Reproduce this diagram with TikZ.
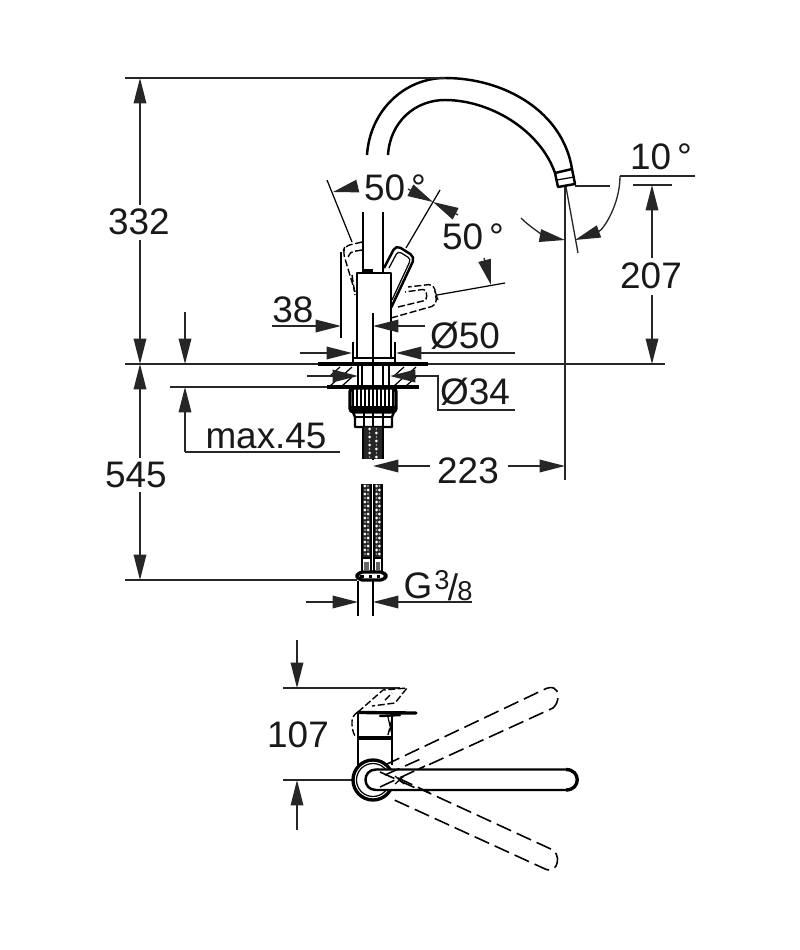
\documentclass[tikz,border=0pt]{standalone}
\usepackage{fontspec}
\setmainfont{Liberation Sans}
\usetikzlibrary{arrows.meta,calc}
\tikzset{
  x=0.02cm,y=-0.02cm,
  dim/.style={line width=0.75pt,black!85},
  tipped/.style={dim,-{Triangle[length=14.5pt,width=7.2pt]}},
  body/.style={line width=1.4pt,line join=round,black},
  heavy/.style={line width=1.9pt,line join=round,black},
  thinl/.style={line width=0.7pt,black},
  longdash/.style={line width=0.9pt,dash pattern=on 9pt off 3.5pt,black},
  shortdash/.style={line width=0.8pt,dash pattern=on 4pt off 1.5pt,black},
  lab/.style={font=\fontsize{21pt}{24pt}\selectfont,text=black!90,inner sep=0pt},
  labs/.style={lab,font=\fontsize{15.5pt}{18pt}\selectfont}
}
\newcommand{\braid}[4]{%
  \fill[black!85] (#1,#3) rectangle (#2,#4);
  \draw[line width=0.7pt] (#1,#3) -- (#1,#4) (#2,#3) -- (#2,#4);
  \pgfmathsetmacro{\cxa}{#1+(#2-#1)*0.33}
  \pgfmathsetmacro{\cxb}{#1+(#2-#1)*0.67}
  \pgfmathsetmacro{\nsteps}{int((#4-#3)/4)-1}
  \foreach \k in {0,...,\nsteps}{
    \pgfmathsetmacro{\yy}{#3+2+\k*4}
    \pgfmathsetmacro{\xx}{mod(\k,2)==0?\cxa:\cxb}
    \fill[white] (\xx,\yy) circle[radius=1.5];
    \pgfmathsetmacro{\xz}{mod(\k,2)==0?\cxb:\cxa}
    \fill[black!20] (\xz,\yy) circle[radius=0.8];
  }
}
\begin{document}
\begin{tikzpicture}
\useasboundingbox (0,0) rectangle (800,950);
\fill[white] (0,0) rectangle (800,950);

% ---------- spout
\draw[body] (367,155) .. controls (370,110) and (405,78) .. (445,78)
            .. controls (505,78) and (563,112) .. (572,169);
\draw[body] (388,155) .. controls (390,122) and (415,100) .. (445,100)
            .. controls (490,100) and (540,130) .. (555,173);
\draw[body] (555,173) -- (572,169) -- (575,184) -- (558,187) -- cycle;
\draw[thinl] (557,180) -- (574,177);
\draw[body] (363,212) -- (363,272);
\draw[body] (383,212) -- (383,272);
\fill (363,269) rectangle (373,274);

% ---------- body
\draw[body] (357,358) -- (357,273) -- (391,273) -- (391,312);
\draw[body] (391,358) -- (391,312);
\draw[thinl] (373,313) -- (373,460);
\draw[body] (353,358) rectangle (395,363);
\draw[thinl] (353,342) -- (353,358);
\draw[thinl] (395,342) -- (395,358);

% ---------- lever (solid)
\draw[body,rounded corners=3pt] (384,268) -- (396,245) -- (415,257) -- (391,308);
\draw[thinl,rounded corners=2pt] (389,268) -- (398,251) -- (411,259) -- (392,300);
\draw[thinl] (406,248) -- (440,190);

% ---------- lever (dashed right)
\draw[shortdash,rounded corners=3pt] (391,318) -- (437,305) -- (434,284) -- (408,287);
\draw[shortdash,rounded corners=2pt] (398,307) -- (427,300) -- (426,289) -- (405,292);
\draw[thinl] (437,295) -- (505,283);
\draw[thinl] (435,291) -- (438,300);

% ---------- lever (dashed left)
\draw[shortdash,rounded corners=3pt] (362,242) -- (345,246) -- (343,252) -- (355,292);
\draw[shortdash,rounded corners=2pt] (362,250) -- (350,252) -- (348,258);
\draw[shortdash] (352,275) -- (355,295);
\draw[thinl] (327,180) -- (352,242);

% ---------- deck and washers
\draw[dim] (125,364) -- (665,364);
\draw[heavy] (318,364) -- (428,364);
\draw[dim] (170,387) -- (345,387);
\draw[heavy] (327,387) -- (419,387);
\foreach \x in {336,348,400,412}{
  \draw[thinl] (\x-6,376) -- (\x+4,367);
  \draw[thinl] (\x-6,386) -- (\x+4,377);
}
\draw[body] (358,364) -- (358,387) (389,364) -- (389,387);
\draw[thinl] (362,364) -- (362,387) (383,364) -- (383,387);

% ---------- nut
\draw[heavy,rounded corners=2pt] (350,388) -- (350,412) -- (396,412) -- (396,388) -- cycle;
\fill (351,406) rectangle (395,413);
\foreach \x in {353,357,361,365,369,373,377,381,385,389,393}{
  \draw[line width=0.9pt] (\x,389) -- (\x,407);
}
\draw[body] (353,412) -- (355,417) -- (355,427) -- (392,427) -- (392,417) -- (394,412);
\draw[thinl] (355,417) -- (392,417);
\draw[thinl] (364,413) -- (364,427) (383,413) -- (383,427);

% ---------- hoses
\braid{363}{383}{427}{459}
\braid{362}{371}{484}{558}
\braid{374}{382}{484}{558}
\draw[thinl] (362,558) rectangle (371,572);
\draw[thinl] (374,558) rectangle (382,572);
\fill[black!60] (364,562) rectangle (369,570);
\fill[black!60] (376,562) rectangle (380,570);
\draw[heavy,rounded corners=3pt,fill=white] (357,572) rectangle (386,580);
\fill[black] (360,574.5) rectangle (364,577.5);
\fill[black] (369,574.5) rectangle (372,577.5);
\fill[black] (377,574.5) rectangle (380,577.5);

% ---------- dimensions: left
\coordinate (t332) at (140,78);
\coordinate (b332) at (140,364);
\coordinate (b545) at (140,580);
\draw[dim] (125,78) -- (445,78);
\draw[dim] (125,580) -- (357,580);
\draw[tipped] (140,205) -- (t332);
\draw[tipped] (140,240) -- (b332);
\draw[tipped] (140,458) -- (b332);
\draw[tipped] (140,492) -- (b545);
\node[lab] (l332) at (139,222) {332};
\node[lab] (l545) at (136,475) {545};

% max.45
\draw[tipped] (185,312) -- (185,364);
\draw[dim] (340,452) -- (185,452);
\draw[tipped] (185,452) -- (185,387);
\node[lab] (lmax) at (266,436) {max.45};

% 38
\draw[thinl] (341,252) -- (341,338);
\draw[tipped] (272,326) -- (341,326);
\draw[tipped] (425,326) -- (373,326);
\node[lab] (l38) at (293,310) {38};

% dia 50
\draw[tipped] (300,353) -- (352,353);
\draw[tipped] (515,353) -- (396,353);
\node[lab] (l50) at (465,336) {Ø50};

% dia 34
\draw[tipped] (307,376) -- (358,376);
\draw[dim] (515,410) -- (438,410) -- (438,376) -- (415,376);
\draw[tipped] (415,376) -- (390,376);
\node[lab] (l34) at (475,392) {Ø34};

% 223
\draw[dim] (565,187) -- (565,480);
\draw[tipped] (430,466) -- (373,466);
\draw[tipped] (508,466) -- (565,466);
\node[lab] (l223) at (468,471) {223};

% 207
\draw[dim] (633,185) -- (672,185);
\draw[tipped] (652,258) -- (652,185);
\draw[tipped] (652,295) -- (652,364);
\node[lab] (l207) at (651,276) {207};

% 10 deg
\draw[dim] (575,186) -- (610,186);
\draw[dim] (566,187) -- (578,253);
\draw[dim] (695,176) -- (620,176);
\draw[tipped] (620,176) .. controls (620,205) and (603,230) .. (575,240);
\draw[tipped] (521,218) .. controls (533,230) and (548,237) .. (565,240);
\node[lab] (l10) at (661,157) {10\,°};

% 50 deg labels
\draw[tipped] (358,186) -- (333,192);
\draw[tipped] (408,189) -- (433,202);
\draw[tipped] (458,215) -- (433,202);
\draw[tipped] (484,258) -- (491,285);
\node[lab] (l50a) at (395,188) {50\,°};
\node[lab] (l50b) at (473,237) {50\,°};

% G 3/8
\draw[thinl] (358,581) -- (358,616) (373,581) -- (373,616);
\draw[tipped] (306,602) -- (358,602);
\draw[tipped] (472,602) -- (373,602);
\node[lab] (lg) at (418,586) {G};
\node[labs] (l3) at (442,580) {3};
\node[lab] (lsl) at (453,587) {/};
\node[labs] (l8) at (465,591) {8};

% ---------- top view
\draw[dim] (283,688) -- (400,688);
\draw[dim] (283,780) -- (365,780);
\draw[tipped] (297,640) -- (297,688);
\draw[tipped] (297,830) -- (297,780);
\node[lab] (l107) at (298,735) {107};

% handle
\draw[body] (358,712) -- (358,765);
\draw[body] (392,712) -- (392,765);
\draw[heavy] (358,738) -- (392,738);
\draw[heavy,line cap=round] (358,712.5) -- (416,713);
\draw[body,line cap=round] (380,716) -- (400,715);
\draw[thinl] (388,717) -- (392,735);
\draw[shortdash] (392,719) -- (388,735);

% dashed handle
\draw[shortdash] (358,712) -- (383,690) -- (407,688) -- (395,703) -- (372,706);
\draw[shortdash] (385,700) -- (392,693);
\draw[shortdash,rounded corners=3pt] (358,712) -- (352,716) -- (352,730) -- (356,738);

% rings
\draw[heavy,fill=white] (373,780) circle[radius=20];
\draw[thinl] (373,780) circle[radius=16.5];

% dashed levers
\draw[longdash] (385,765) -- (543,690) .. controls (552,685) and (558,688) .. (558,696) .. controls (558,702) and (556,705) .. (553,708) -- (380,787);
\draw[longdash] (377,769) -- (553,850) .. controls (559,855) and (558,862) .. (556,866) .. controls (553,871) and (548,871) .. (543,868) -- (390,798);

% solid lever, dashed lines show through
\draw[body,fill=white] (566,769.5) -- (376,769.5) .. controls (362,769.5) and (362,790) .. (376,790) -- (566,790);
\draw[heavy] (566,769.5) .. controls (581,769.5) and (581,790) .. (566,790);
\draw[thinl] (395,776) -- (404,784) (395,784) -- (404,776);
\draw[longdash] (385,775) -- (425,757);
\draw[longdash] (380,787) -- (425,766);
\draw[longdash] (380,772) -- (420,790);
\draw[longdash] (398,778) -- (430,793);
\end{tikzpicture}
\end{document}
